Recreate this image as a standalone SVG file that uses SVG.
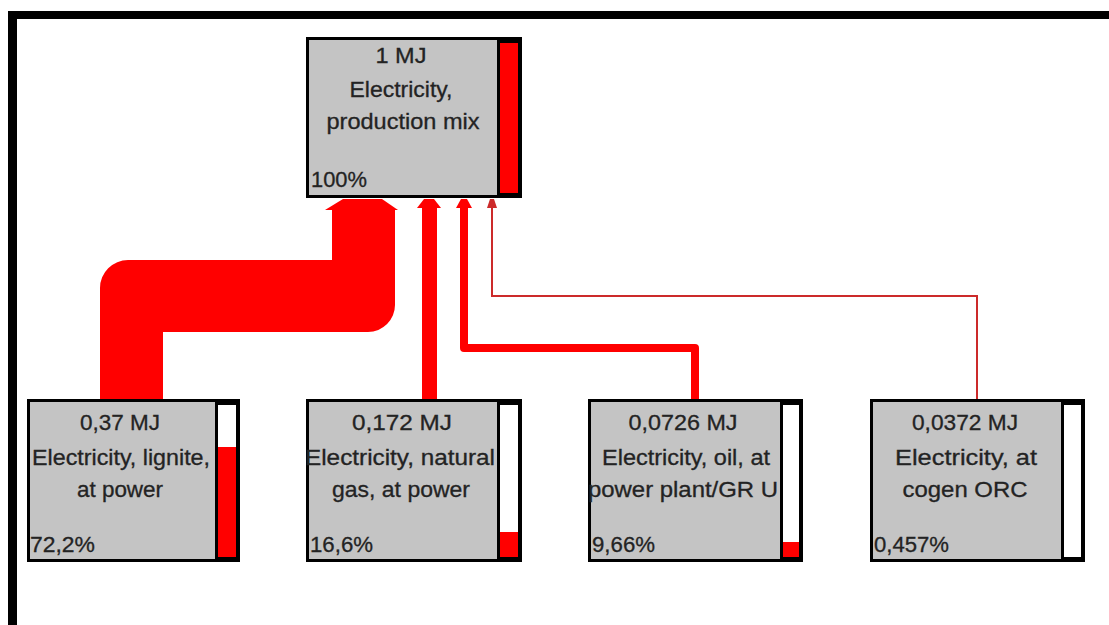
<svg xmlns="http://www.w3.org/2000/svg" width="1109" height="625" viewBox="0 0 1109 625">
<style>
.t{font-family:"Liberation Sans",Arial,sans-serif;font-size:22px;fill:#232323;stroke:#232323;stroke-width:0.3}
.c{text-anchor:middle}
.frame{fill:#000}
.grey{fill:#c4c4c4}
.bar{fill:#fff}
.red{fill:#ff0000}
.flow{fill:#ff0000}
</style>
<rect width="1109" height="625" fill="#fff"/>
<g id="frame">
<rect class="frame" x="8" y="11" width="1101" height="8"/>
<rect class="frame" x="8" y="11" width="9" height="614"/>
</g>
<g id="connectors">
<path class="flow" d="M100,399 L100,288 A28,28 0 0 1 128,260 L332,260 L332,208 L395,208 L395,305 A27,27 0 0 1 368,332 L163,332 L163,399 Z"/>
<polygon class="flow" points="325,210 398,210 382,199 343,199"/>
<rect class="flow" x="422" y="205" width="15" height="194"/>
<polygon class="flow" points="417,208 441,208 434,199 424,199"/>
<path d="M464,205 L464,348 L695,348 L695,399" fill="none" stroke="#ff0000" stroke-width="8" stroke-linejoin="round"/>
<polygon class="flow" points="456,208 472,208 467,199 461,199"/>
<path d="M492,205 L492,296 L977,296 L977,399" fill="none" stroke="#cc2a2a" stroke-width="2"/>
<polygon points="487,208 497,208 494,199 490,199" fill="#cc2a2a"/>
</g>
<g id="node-top">
<rect class="frame" x="306" y="37" width="216" height="161"/>
<rect class="grey" x="309" y="40" width="188" height="155"/>
<rect class="red" x="500" y="43" width="18" height="150"/>
<text class="t c" x="401" y="63" textLength="51" lengthAdjust="spacingAndGlyphs">1 MJ</text>
<text class="t c" x="401" y="97" textLength="103" lengthAdjust="spacingAndGlyphs">Electricity,</text>
<text class="t c" x="403" y="129" textLength="153" lengthAdjust="spacingAndGlyphs">production mix</text>
<text class="t" x="311" y="187" textLength="56" lengthAdjust="spacingAndGlyphs">100%</text>
</g>
<g id="node-lignite">
<rect class="frame" x="27" y="399" width="213" height="163"/>
<rect class="grey" x="30" y="402" width="185" height="157"/>
<rect class="bar" x="218" y="405" width="18" height="152"/>
<rect class="red" x="218" y="447" width="18" height="110"/>
<text class="t c" x="120" y="430" textLength="80" lengthAdjust="spacingAndGlyphs">0,37 MJ</text>
<text class="t c" x="121" y="465" textLength="178" lengthAdjust="spacingAndGlyphs">Electricity, lignite,</text>
<text class="t c" x="120" y="497" textLength="86" lengthAdjust="spacingAndGlyphs">at power</text>
<text class="t" x="30" y="552" textLength="65" lengthAdjust="spacingAndGlyphs">72,2%</text>
</g>
<g id="node-gas">
<rect class="frame" x="306" y="399" width="216" height="163"/>
<rect class="grey" x="309" y="402" width="188" height="157"/>
<rect class="bar" x="500" y="405" width="18" height="152"/>
<rect class="red" x="500" y="532" width="18" height="25"/>
<text class="t c" x="402" y="430" textLength="100" lengthAdjust="spacingAndGlyphs">0,172 MJ</text>
<text class="t c" x="400" y="465" textLength="190" lengthAdjust="spacingAndGlyphs">Electricity, natural</text>
<text class="t c" x="401" y="497" textLength="138" lengthAdjust="spacingAndGlyphs">gas, at power</text>
<text class="t" x="310" y="552" textLength="63" lengthAdjust="spacingAndGlyphs">16,6%</text>
</g>
<g id="node-oil">
<rect class="frame" x="588" y="399" width="215" height="163"/>
<rect class="grey" x="591" y="402" width="189" height="157"/>
<rect class="bar" x="783" y="405" width="16" height="152"/>
<rect class="red" x="783" y="542" width="16" height="15"/>
<text class="t c" x="683" y="430" textLength="109" lengthAdjust="spacingAndGlyphs">0,0726 MJ</text>
<text class="t c" x="686" y="465" textLength="168" lengthAdjust="spacingAndGlyphs">Electricity, oil, at</text>
<text class="t c" x="683" y="497" textLength="190" lengthAdjust="spacingAndGlyphs">power plant/GR U</text>
<text class="t" x="592" y="552" textLength="63" lengthAdjust="spacingAndGlyphs">9,66%</text>
</g>
<g id="node-cogen">
<rect class="frame" x="870" y="399" width="215" height="163"/>
<rect class="grey" x="873" y="402" width="188" height="157"/>
<rect class="bar" x="1064" y="405" width="17" height="152"/>
<text class="t c" x="965" y="430" textLength="106" lengthAdjust="spacingAndGlyphs">0,0372 MJ</text>
<text class="t c" x="966" y="465" textLength="142" lengthAdjust="spacingAndGlyphs">Electricity, at</text>
<text class="t c" x="965" y="497" textLength="125" lengthAdjust="spacingAndGlyphs">cogen ORC</text>
<text class="t" x="874" y="552" textLength="75" lengthAdjust="spacingAndGlyphs">0,457%</text>
</g>
</svg>
